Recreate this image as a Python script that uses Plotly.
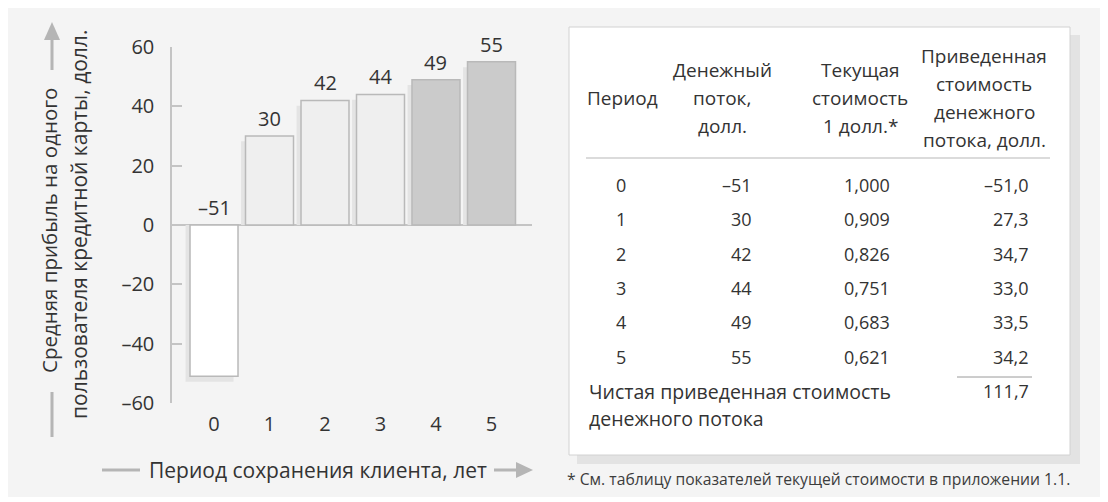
import plotly.graph_objects as go

# ---------------- data ----------------
periods = [0, 1, 2, 3, 4, 5]
cash_flows = [-51, 30, 42, 44, 49, 55]
pv_factors = [1.000, 0.909, 0.826, 0.751, 0.683, 0.621]
pv_values = [-51.0, 27.3, 34.7, 33.0, 33.5, 34.2]
npv_total = 111.7
y_tick_vals = [-60, -40, -20, 0, 20, 40, 60]

y_title_1 = "Средняя прибыль на одного"
y_title_2 = "пользователя кредитной карты, долл."
x_title = "Период сохранения клиента, лет"
header_period = ["Период"]
header_cash = ["Денежный", "поток,", "долл."]
header_factor = ["Текущая", "стоимость", "1 долл.*"]
header_pv = ["Приведенная", "стоимость", "денежного", "потока, долл."]
total_label = ["Чистая приведенная стоимость", "денежного потока"]
footnote = "* См. таблицу показателей текущей стоимости в приложении 1.1."

# ---------------- styles ----------------
bar_fill = ["#ffffff", "#efefef", "#efefef", "#efefef", "#cbcbcb", "#cbcbcb"]
FONT = "Open Sans"
TXT = "#333333"
GRAY = "#c4c4c4"
W, H = 1108, 502
BAR_W = 0.865          # bar width in category units
SH_DX = -0.08          # shadow shift (category units)
SH_DY = 1.8            # shadow drop (value units)


def fx(x):
    return x / W


def fy(y):
    return 1 - y / H


def fmt(v, d=0):
    s = f"{abs(v):.{d}f}".replace(".", ",")
    return ("–" if v < 0 else "") + s


fig = go.Figure()
# soft drop shadow behind the bars
fig.add_trace(go.Bar(
    x=periods, y=[v - SH_DY for v in cash_flows],
    width=BAR_W, offset=-BAR_W / 2 + SH_DX,
    marker=dict(color="#e4e4e4", line=dict(width=0)),
    hoverinfo="skip", showlegend=False,
))
fig.add_trace(go.Bar(
    x=periods, y=cash_flows,
    width=BAR_W, offset=-BAR_W / 2,
    marker=dict(color=bar_fill, line=dict(color="#b9b9b9", width=1.5)),
    hoverinfo="skip", showlegend=False,
))

annotations = []
NF = dict(size=20, color=TXT, family=FONT)   # chart numbers
LF = dict(size=21, color=TXT, family=FONT)   # chart titles
# value labels above bars
for p, v in zip(periods, cash_flows):
    annotations.append(dict(x=p, y=max(v, 0), xref="x", yref="y", text=fmt(v),
                            showarrow=False, xanchor="center", yanchor="bottom", yshift=2,
                            font=NF))

# y title (rotated, two lines)
annotations.append(dict(x=fx(49), y=fy(231), xref="paper", yref="paper", text=y_title_1,
                        textangle=-90, showarrow=False, xanchor="center", yanchor="middle",
                        font=dict(size=20.5, color=TXT, family=FONT)))
annotations.append(dict(x=fx(79), y=fy(225), xref="paper", yref="paper", text=y_title_2,
                        textangle=-90, showarrow=False, xanchor="center", yanchor="middle",
                        font=LF))
# x title
annotations.append(dict(x=fx(318), y=fy(470), xref="paper", yref="paper", text=x_title,
                        showarrow=False, xanchor="center", yanchor="middle", font=LF))

# ---------------- table ----------------
TF = dict(size=19, color=TXT, family=FONT)   # table words
TD = dict(size=18, color=TXT, family=FONT)   # table digits


def txt(x, y, t, xanchor="center", font=TF):
    annotations.append(dict(x=fx(x), y=fy(y), xref="paper", yref="paper", text=t,
                            showarrow=False, xanchor=xanchor, yanchor="middle", font=font))


LH = 28
for i, t in enumerate(header_period):
    txt(622, 98 + i * LH, t)
for i, t in enumerate(header_cash):
    txt(722, 70 + i * LH, t)
for i, t in enumerate(header_factor):
    txt(860, 70 + i * LH, t)
for i, t in enumerate(header_pv):
    txt(984, 56 + i * LH, t)

row_y0, row_dy = 185, 34.3
for i, p in enumerate(periods):
    y = row_y0 + i * row_dy
    txt(621, y, str(p), font=TD)
    txt(754, y, fmt(cash_flows[i]), xanchor="right", font=TD)
    txt(867, y, fmt(pv_factors[i], 3), font=TD)
    txt(1031, y, fmt(pv_values[i], 1), xanchor="right", font=TD)

TL = dict(size=19.5, color=TXT, family=FONT)
txt(587, 391, total_label[0], xanchor="left", font=TL)
txt(587, 418, total_label[1], xanchor="left", font=TL)
txt(1031, 391, fmt(npv_total, 1), xanchor="right", font=TD)

annotations.append(dict(x=fx(565), y=fy(479), xref="paper", yref="paper", text=footnote,
                        showarrow=False, xanchor="left", yanchor="middle",
                        font=dict(size=15.7, color="#3c3c3c", family=FONT)))

# ---------------- shapes ----------------
shapes = []


def rect(x0, y0, x1, y1, fill, line=None, lw=0):
    shapes.append(dict(type="rect", xref="paper", yref="paper", x0=fx(x0), x1=fx(x1),
                       y0=fy(y0), y1=fy(y1), fillcolor=fill, layer="below",
                       line=dict(color=line or fill, width=lw)))


def hline(x0, x1, y, color, width):
    shapes.append(dict(type="line", xref="paper", yref="paper", x0=fx(x0), x1=fx(x1),
                       y0=fy(y), y1=fy(y), line=dict(color=color, width=width)))


def vline(x, y0, y1, color, width):
    shapes.append(dict(type="line", xref="paper", yref="paper", x0=fx(x), x1=fx(x),
                       y0=fy(y0), y1=fy(y1), line=dict(color=color, width=width)))


def tri(points, color):
    path = "M " + " L ".join(f"{fx(a)},{fy(b)}" for a, b in points) + " Z"
    shapes.append(dict(type="path", xref="paper", yref="paper", path=path,
                       fillcolor=color, line=dict(color=color, width=0)))


# background panel
rect(8, 8, 1100, 497, "#f4f4f4")
# table shadow + box
rect(577, 35, 1080, 464, "#e3e3e3")
rect(569, 27, 1070, 455, "#ffffff", line="#d2d2d2", lw=1)
hline(586, 1050, 158, "#cfcfcf", 1.5)
hline(957, 1032, 377, "#9a9a9a", 1)

AR = "#b5b5b5"
# y-title arrow
vline(52, 437, 392, AR, 3)
vline(52, 70, 38, AR, 3)
tri([(44, 40), (60, 40), (52, 22)], AR)
# x-title arrow
hline(102, 140, 470, AR, 3)
hline(494, 518, 470, AR, 3)
tri([(516, 462), (516, 478), (533, 470)], AR)

fig.update_layout(
    width=W, height=H,
    margin=dict(l=0, r=0, t=0, b=0, autoexpand=False),
    paper_bgcolor="#ffffff", plot_bgcolor="rgba(0,0,0,0)",
    barmode="overlay",
    showlegend=False,
    annotations=annotations,
    shapes=shapes,
    xaxis=dict(domain=[fx(172), fx(532)], range=[-0.757, 5.73], automargin=False,
               tickvals=periods, ticktext=[str(p) for p in periods],
               showline=False, showgrid=False, zeroline=False, ticks="",
               ticklabelstandoff=7,
               tickfont=NF, fixedrange=True),
    yaxis=dict(domain=[fy(403), fy(47)], range=[-60, 60], automargin=False,
               tickvals=y_tick_vals, ticktext=[fmt(v) for v in y_tick_vals],
               showline=True, linecolor=GRAY, linewidth=1.5,
               ticks="inside", ticklen=10, tickcolor=GRAY, tickwidth=1.5,
               showgrid=False, zeroline=True, zerolinecolor=GRAY, zerolinewidth=1.5,
               ticklabelstandoff=12,
               tickfont=NF, fixedrange=True),
)

fig.write_html("out.html")
